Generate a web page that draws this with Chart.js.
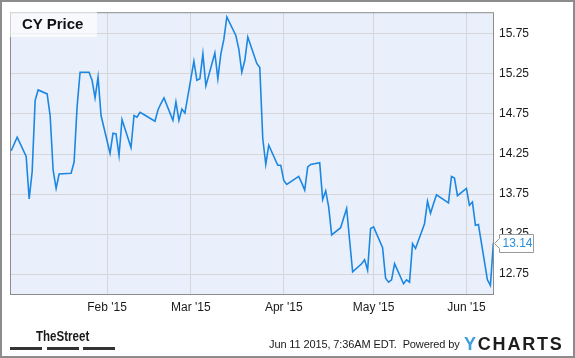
<!DOCTYPE html>
<html><head><meta charset="utf-8">
<script src="https://cdn.jsdelivr.net/npm/chart.js@4/dist/chart.umd.min.js"></script>
<style>
html,body{margin:0;padding:0;background:#fff;}
#wrap{position:relative;width:575px;height:358px;overflow:hidden;font-family:"Liberation Sans",Arial,sans-serif;}
#c{position:absolute;left:0;top:0;}
#frame{position:absolute;left:0;top:0;width:571px;height:354px;border:2px solid #8c8c8c;pointer-events:none;}
#legend{position:absolute;left:10px;top:10px;width:87px;height:27px;background:rgba(255,255,255,0.6);}
#legend span{position:absolute;left:12px;top:6px;font-weight:bold;font-size:15px;line-height:15px;color:#111;white-space:nowrap;}
#street{position:absolute;left:36px;top:328px;font-weight:bold;font-size:15px;line-height:15px;color:#1a1a1a;transform:scaleX(0.77);transform-origin:0 0;white-space:nowrap;}
.bar{position:absolute;top:347px;height:3px;background:#333;}
#stamp{position:absolute;left:269px;top:339px;font-size:11px;line-height:11px;letter-spacing:-0.12px;color:#1a1a1a;white-space:pre;}
#logo{position:absolute;left:464px;top:335px;font-size:18px;line-height:18px;font-weight:bold;letter-spacing:1.8px;color:#1d1d1d;white-space:nowrap;}
#logo b{color:#3d9fdc;}
</style></head>
<body>
<div id="wrap">
<canvas id="c" width="575" height="358"></canvas>
<div id="legend"><span id="lgtext"></span></div>
<div id="street">TheStreet</div>
<div class="bar" style="left:10px;width:32px"></div>
<div class="bar" style="left:47px;width:32px"></div>
<div class="bar" style="left:83px;width:32px"></div>
<div id="stamp">Jun 11 2015, 7:36AM EDT.  Powered by</div>
<div id="logo"><b>Y</b>CHARTS</div>
<div id="frame"></div>
</div>
<script>
const seriesName = 'CY Price';
const dates = [
'2014-12-31','2015-01-02','2015-01-05','2015-01-06','2015-01-07','2015-01-08','2015-01-09',
'2015-01-12','2015-01-13','2015-01-14','2015-01-15','2015-01-16','2015-01-20','2015-01-21',
'2015-01-22','2015-01-23','2015-01-26','2015-01-27','2015-01-28','2015-01-29','2015-01-30',
'2015-02-02','2015-02-03','2015-02-04','2015-02-05','2015-02-06','2015-02-09','2015-02-10',
'2015-02-11','2015-02-12','2015-02-13','2015-02-17','2015-02-18','2015-02-19','2015-02-20',
'2015-02-23','2015-02-24','2015-02-25','2015-02-26','2015-02-27','2015-03-02','2015-03-03',
'2015-03-04','2015-03-05','2015-03-06','2015-03-09','2015-03-10','2015-03-11','2015-03-12',
'2015-03-13','2015-03-16','2015-03-17','2015-03-18','2015-03-19','2015-03-20','2015-03-23',
'2015-03-24','2015-03-25','2015-03-26','2015-03-27','2015-03-30','2015-03-31','2015-04-01',
'2015-04-02','2015-04-06','2015-04-07','2015-04-08','2015-04-09','2015-04-10','2015-04-13',
'2015-04-14','2015-04-15','2015-04-16','2015-04-17','2015-04-20','2015-04-21','2015-04-22',
'2015-04-23','2015-04-24','2015-04-27','2015-04-28','2015-04-29','2015-04-30','2015-05-01',
'2015-05-04','2015-05-05','2015-05-06','2015-05-07','2015-05-08','2015-05-11','2015-05-12',
'2015-05-13','2015-05-14','2015-05-15','2015-05-18','2015-05-19','2015-05-20','2015-05-21',
'2015-05-22','2015-05-26','2015-05-27','2015-05-28','2015-05-29','2015-06-01','2015-06-02',
'2015-06-03','2015-06-04','2015-06-05','2015-06-08','2015-06-09','2015-06-10'
];
const prices = [
14.29,14.46,14.22,13.69,14.03,14.92,15.05,
15.00,14.73,14.05,13.82,14.00,14.01,14.15,
14.84,15.27,15.27,15.17,14.95,15.21,14.73,
14.26,14.51,14.50,14.23,14.68,14.33,14.73,
14.71,14.77,14.75,14.66,14.80,14.88,14.95,
14.67,14.90,14.67,14.81,14.76,15.41,15.17,
15.19,15.50,15.10,15.51,15.19,15.50,15.68,
15.96,15.73,15.56,15.27,15.42,15.71,15.38,
15.33,14.44,14.12,14.36,14.11,14.11,13.92,
13.87,13.97,13.89,13.80,14.09,14.12,14.14,
13.68,13.79,13.59,13.24,13.33,13.45,13.57,
13.17,12.78,12.88,12.93,12.80,13.32,13.34,
13.08,12.70,12.65,12.68,12.88,12.63,12.68,
12.65,13.13,13.07,13.38,13.66,13.51,13.63,
13.74,13.64,13.97,13.95,13.73,13.82,13.61,
13.65,13.36,13.37,12.68,12.61,13.14
];
const yTicks = [12.75,13.25,13.75,14.25,14.75,15.25,15.75];
const monthTicks = ['2015-02-01','2015-03-01','2015-04-01','2015-05-01','2015-06-01'];
const monthLabels = ["Feb '15","Mar '15","Apr '15","May '15","Jun '15"];
const lastLabel = '13.14';

document.getElementById('lgtext').textContent = seriesName;

const base = Date.UTC(2014,11,31);
function dayNum(s){const p=s.split('-').map(Number);return (Date.UTC(p[0],p[1]-1,p[2])-base)/86400000;}
const points = dates.map((d,i)=>({x:dayNum(d),y:prices[i]}));

Chart.defaults.font.family = '"Liberation Sans", Arial, sans-serif';
Chart.defaults.font.size = 12;
Chart.defaults.color = '#1a1a1a';

const LINE = '#1c87e2';
const plotDeco = {
  id:'plotDeco',
  beforeDraw(chart){
    const a=chart.chartArea, ctx=chart.ctx;
    ctx.save(); ctx.fillStyle='#eaf0fb'; ctx.fillRect(a.left,a.top,a.right-a.left,a.bottom-a.top); ctx.restore();
  },
  afterDraw(chart){
    const a=chart.chartArea, ctx=chart.ctx;
    ctx.save();
    ctx.strokeStyle='#8c8c8c'; ctx.lineWidth=1;
    ctx.strokeRect(a.left+0.5,a.top+0.5,a.right-a.left-1,a.bottom-a.top-1);
    const ys = chart.scales.y;
    const y = Math.round(ys.getPixelForValue(prices[prices.length-1]))+0.5;
    const x0 = a.right+5.5, w=34, h=18;
    ctx.beginPath();
    ctx.moveTo(x0, y-h/2); ctx.lineTo(x0+w, y-h/2); ctx.lineTo(x0+w, y+h/2); ctx.lineTo(x0, y+h/2);
    ctx.lineTo(x0, y+5); ctx.lineTo(x0-5, y); ctx.lineTo(x0, y-5); ctx.closePath();
    ctx.fillStyle='#fff'; ctx.fill(); ctx.strokeStyle='#999'; ctx.stroke();
    ctx.fillStyle='#2b8fdc'; ctx.font='12px "Liberation Sans", Arial, sans-serif';
    ctx.textBaseline='middle'; ctx.textAlign='left';
    ctx.fillText(lastLabel, x0+3, y+0.5);
    ctx.restore();
  }
};

new Chart(document.getElementById('c'), {
  type:'line',
  data:{datasets:[{label:seriesName,data:points,borderColor:LINE,borderWidth:1.6,pointRadius:0,tension:0,fill:false}]},
  options:{
    responsive:false, animation:false, devicePixelRatio:1,
    layout:{padding:{left:10,top:10,right:0,bottom:0}},
    plugins:{legend:{display:false},tooltip:{enabled:false}},
    scales:{
      x:{type:'linear',min:-0.4,max:161.2,
        afterBuildTicks(s){s.ticks=monthTicks.map(m=>({value:dayNum(m)}));},
        afterFit(s){s.height=63;},
        grid:{color:'#d6d6d6',drawTicks:false},
        border:{display:false},
        ticks:{autoSkip:false,maxRotation:0,padding:5,callback:(v,i)=>monthLabels[i]}
      },
      y:{type:'linear',position:'right',min:12.49,max:16.02,
        afterBuildTicks(s){s.ticks=yTicks.map(v=>({value:v}));},
        afterFit(s){s.width=81;},
        grid:{color:'#d6d6d6',drawTicks:false},
        border:{display:false},
        ticks:{padding:5,callback:v=>Number(v).toFixed(2)}
      }
    }
  },
  plugins:[plotDeco]
});
</script>
</body></html>
